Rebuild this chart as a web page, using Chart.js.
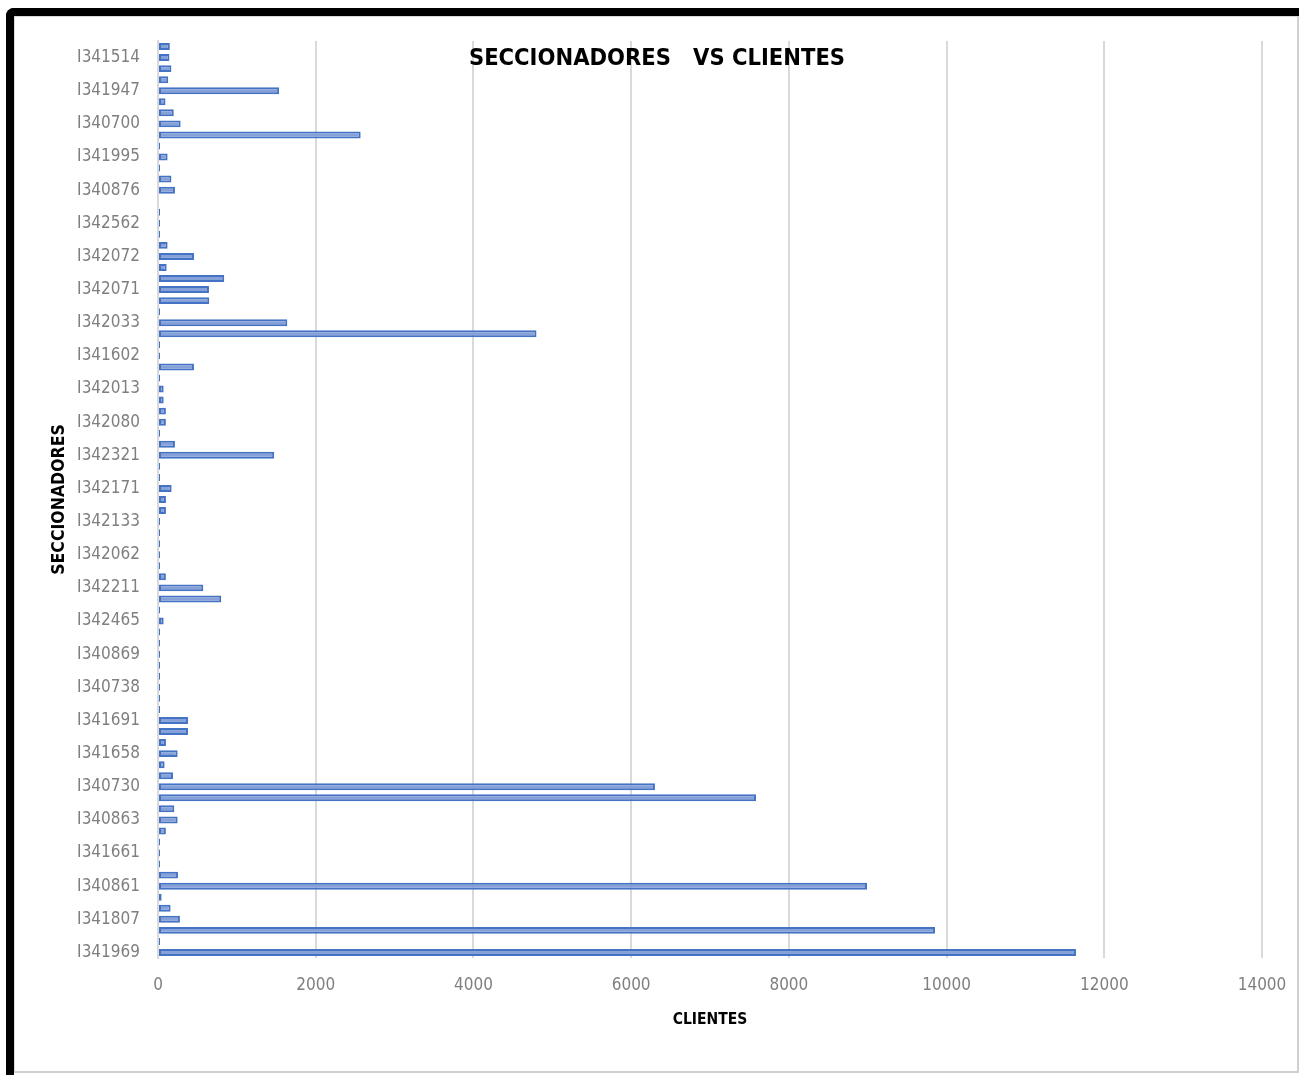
<!doctype html>
<html>

<head>
  <meta charset="utf-8">
  <title>Seccionadores vs Clientes</title>
  <script src="https://cdn.jsdelivr.net/npm/chart.js@4.4.1/dist/chart.umd.min.js"></script>
  <style>
    html, body { margin: 0; padding: 0; background: #fff; }
    body { width: 1299px; height: 1075px; position: relative; overflow: hidden; }
    #frame {
      position: absolute; left: 6px; top: 8px; width: 1293px; height: 1067px;
      box-sizing: border-box; border-top: 8px solid #000; border-left: 8px solid #000;
      border-top-left-radius: 8px;
    }
    #inner {
      position: absolute; left: 0; top: 0; right: 0; height: 1057px;
      border-top: 1px solid #d9d9d9; border-left: 1px solid #d9d9d9;
      border-right: 2px solid #d0d0d0; border-bottom: 2px solid #cfcfcf;
      box-sizing: border-box;
    }
    #chart { position: absolute; left: 0; top: 0; }
    #title {
      position: absolute; left: 657px; top: 45px; transform: translateX(-50%);
      font: bold 23.5px 'DejaVu Sans Condensed', 'DejaVu Sans', sans-serif;
      line-height: 24px; white-space: pre; color: #000;
    }
  </style>
</head>

<body>
  <div id="frame"><div id="inner"></div></div>
  <canvas id="chart" width="1299" height="1075"></canvas>
  <div id="title">SECCIONADORES   VS CLIENTES</div>

  <script>
    // labels Excel shows (every 3rd category), top to bottom
    var shownLabels = ["I341514", "I341947", "I340700", "I341995", "I340876", "I342562", "I342072",
      "I342071", "I342033", "I341602", "I342013", "I342080", "I342321", "I342171", "I342133",
      "I342062", "I342211", "I342465", "I340869", "I340738", "I341691", "I341658", "I340730",
      "I340863", "I341661", "I340861", "I341807", "I341969"];

    // clientes per seccionador, top to bottom (83 bars)
    var clientes = [
      150, 145, 170, 130, 1536, 95, 200, 287, 2570, 5,
      122, 5, 170, 215, null, 3, 3, 3, 122, 456,
      110, 840, 646, 650, 8, 1640, 4800, 5, 5, 456,
      5, 72, 72, 100, 100, 5, 215, 1473, 5, 5,
      173, 100, 100, 5, 5, 5, 5, 5, 100, 574,
      802, 5, 72, 5, 5, 5, 5, 5, 5, 5,
      5, 380, 380, 100, 249, 84, 190, 6302, 7583, 207,
      249, 100, 5, 5, 5, 253, 8991, 46, 160, 278,
      9853, 5, 11641
    ];

    var xTicks = [0, 2000, 4000, 6000, 8000, 10000, 12000, 14000];

    // one category per bar, names only where the axis shows them
    var categories = clientes.map(function (v, i) {
      return i % 3 === 1 ? shownLabels[(i - 1) / 3] : '';
    });

    var narrow = "'DejaVu Sans Condensed', 'DejaVu Sans', sans-serif";

    new Chart(document.getElementById('chart'), {
      type: 'bar',
      data: {
        labels: categories,
        datasets: [{
          label: 'CLIENTES',
          data: clientes,
          backgroundColor: '#85a1d8',
          borderColor: '#4472c4',
          borderWidth: 2,
          borderSkipped: false,
          minBarLength: 2,
          barPercentage: 0.63,
          categoryPercentage: 1
        }]
      },
      options: {
        indexAxis: 'y',
        responsive: false,
        animation: false,
        devicePixelRatio: 1,
        layout: { padding: { left: 40, top: 41, right: 37, bottom: 42 } },
        plugins: {
          legend: { display: false },
          tooltip: { enabled: false },
          title: { display: false }
        },
        scales: {
          x: {
            min: xTicks[0],
            max: xTicks[xTicks.length - 1],
            ticks: {
              stepSize: xTicks[1] - xTicks[0],
              color: '#7f7f7f',
              font: { family: narrow, size: 17 },
              padding: 17,
              maxRotation: 0,
              callback: function (v) { return String(v); }
            },
            grid: { color: '#d9d9d9', lineWidth: 2, drawTicks: false },
            border: { display: false },
            title: {
              display: true,
              text: 'CLIENTES',
              color: '#000',
              font: { family: narrow, size: 15.5, weight: 'bold' },
              padding: { top: 12, bottom: 4 }
            },
            afterFit: function (scale) {
              scale.height = 75;
              scale.paddingLeft = 0;
              scale.paddingRight = 0;
            }
          },
          y: {
            ticks: {
              autoSkip: false,
              color: '#7f7f7f',
              font: { family: narrow, size: 17 },
              padding: 18
            },
            grid: { display: false, drawTicks: false },
            border: { display: true, color: '#d9d9d9', width: 2 },
            title: {
              display: true,
              text: 'SECCIONADORES',
              color: '#000',
              font: { family: narrow, size: 17.5, weight: 'bold' },
              padding: { top: 9, bottom: 6 }
            },
            afterFit: function (scale) { scale.width = 118; }
          }
        }
      }
    });
  </script>
</body>

</html>
